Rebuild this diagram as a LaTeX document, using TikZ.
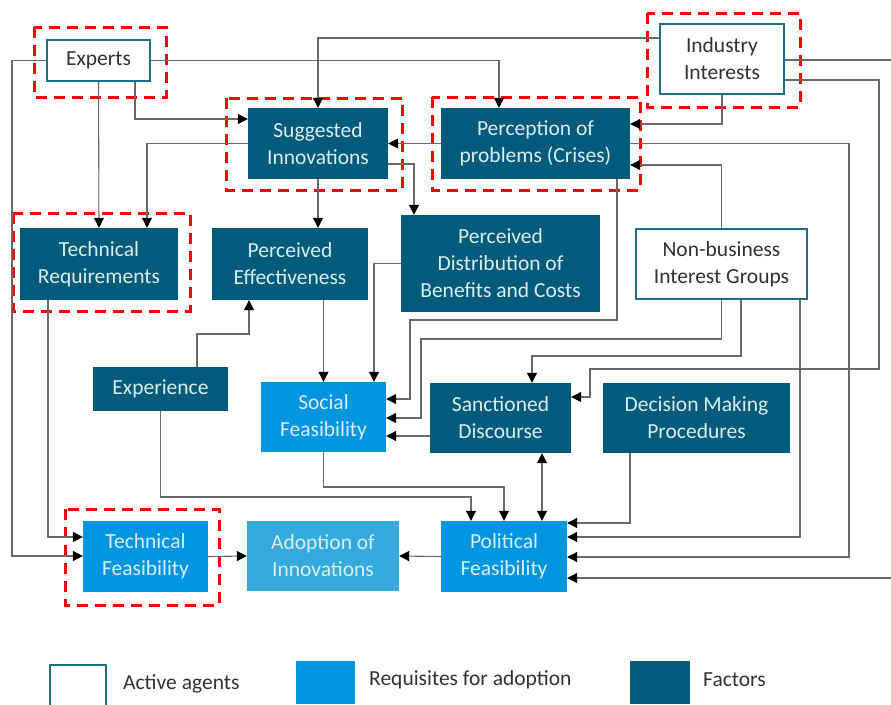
\documentclass[tikz,border=0pt]{standalone}
\usepackage{fontspec}
\setmainfont{Carlito}
\usetikzlibrary{arrows.meta}
\definecolor{factorcol}{RGB}{0,91,122}
\definecolor{requcol}{RGB}{0,149,224}
\definecolor{adoptcol}{RGB}{52,170,220}
\definecolor{agentcol}{RGB}{30,110,138}
\definecolor{lighttext}{RGB}{220,238,245}
\definecolor{darktext}{RGB}{50,50,50}
\definecolor{linecol}{RGB}{105,105,105}
\tikzset{
  box/.style={rectangle, align=center, inner sep=0pt, font=\fontsize{21.5}{27}\selectfont},
  agent/.style={box, draw=agentcol, line width=1.6pt, fill=white, text=darktext},
  factor/.style={box, fill=factorcol, text=lighttext},
  requisite/.style={box, fill=requcol, text=lighttext},
  flow/.style={draw=linecol, line width=1.1pt, -{Triangle[length=10pt,width=10pt,color=black]}},
  hilite/.style={draw=red, line width=3pt, dash pattern=on 11pt off 7pt},
  legendtext/.style={anchor=west, text=darktext, inner sep=0pt, font=\fontsize{21.5}{26}\selectfont},
}
\begin{document}
\begin{tikzpicture}[x=1pt,y=-1pt]
\useasboundingbox (0,0) rectangle (891,704);
% boxes
\node[agent, minimum width=103pt, minimum height=41pt] (experts) at (98.5,60.5) {Experts};
\node[agent, minimum width=124pt, minimum height=70pt] (industry) at (722,59) {Industry\\Interests};
\node[factor, minimum width=140pt, minimum height=71pt] (sugg) at (318,143.5) {Suggested\\Innovations};
\node[factor, minimum width=189pt, minimum height=71pt] (percep) at (535.5,143.5) {Perception of\\problems (Crises)};
\node[factor, minimum width=158pt, minimum height=72pt] (techreq) at (99,264) {Technical\\Requirements};
\node[factor, minimum width=156pt, minimum height=72pt] (effect) at (290,264) {Perceived\\Effectiveness};
\node[factor, minimum width=199pt, minimum height=97pt] (distrib) at (500.5,263.5) {Perceived\\Distribution of\\Benefits and Costs};
\node[agent, minimum width=171pt, minimum height=70pt] (nonbus) at (721.5,264) {Non-business\\Interest Groups};
\node[factor, minimum width=135pt, minimum height=44pt] (exper) at (160.5,389) {Experience};
\node[requisite, minimum width=125pt, minimum height=70pt] (social) at (323.5,417) {Social\\Feasibility};
\node[factor, minimum width=141pt, minimum height=70pt] (sanct) at (500.5,418) {Sanctioned\\Discourse};
\node[factor, minimum width=187pt, minimum height=70pt] (decis) at (696.5,418) {Decision Making\\Procedures};
\node[requisite, minimum width=125pt, minimum height=71pt] (techfeas) at (145.5,556.5) {Technical\\Feasibility};
\node[requisite, fill=adoptcol, minimum width=152pt, minimum height=70pt] (adopt) at (323,556) {Adoption of\\Innovations};
\node[requisite, minimum width=126pt, minimum height=71pt] (polit) at (504,556.5) {Political\\Feasibility};
% highlighted boxes
\draw[hilite] (34,27) rectangle (166,97);
\draw[hilite] (647,13) rectangle (800,107);
\draw[hilite] (226,98) rectangle (402,190);
\draw[hilite] (432,97) rectangle (640,190);
\draw[hilite] (13,213) rectangle (190,311);
\draw[hilite] (65,509) rectangle (219,605);
% connectors
\coordinate (offl) at (891,60);
\coordinate (offr) at (891,578);
\draw[flow] (experts.west) -| (12,556) -- (techfeas.west |- 0,556);
\draw[flow] (techreq.south -| 48,0) |- (techfeas.west |- 0,537);
\draw[flow] (experts.south) -- (techreq.north);
\draw[flow] (experts.south -| 135,0) |- (sugg.west |- 0,119);
\draw[flow] (experts.east) -| (percep.north -| 499,0);
\draw[flow] (industry.west |- 0,38) -| (sugg.north);
\draw[flow] (industry.south) |- (percep.east |- 0,124);
\draw[flow] (sugg.west) -| (techreq.north -| 147,0);
\draw[flow] (percep.west) -- (sugg.east);
\draw[flow] (sugg.east |- 0,164) -| (distrib.north -| 414,0);
\draw[flow] (sugg.south) -- (sugg.south |- effect.north);
\draw[flow] (percep.east) -| (849,557) -- (polit.east |- 0,557);
\draw[flow] (decis.south -| 630,0) |- (polit.east |- 0,523);
\draw[flow] (nonbus.south -| 800,0) |- (polit.east |- 0,537);
\draw[flow] (offr) -- (polit.east |- offr);
\draw[draw=linecol, line width=1.1pt] (industry.east |- offl) -- (offl);
\draw[flow] (industry.east |- 0,80) -| (879,369) -| (590,397) -- (sanct.east |- 0,397);
\draw[flow] (nonbus.north) |- (percep.east |- 0,165);
\draw[flow] (nonbus.south) |- (421,339) |- (social.east |- 0,418);
\draw[flow] (nonbus.south -| 741,0) |- (532,356) -- (sanct.north -| 532,0);
\draw[flow] (percep.south -| 617,0) |- (410,320) |- (social.east |- 0,399);
\draw[flow] (distrib.west) -| (social.north -| 374,0);
\draw[flow] (social.north |- effect.south) -- (social.north);
\draw[flow] (exper.north -| 197,0) |- (249,334) -- (effect.south -| 249,0);
\draw[flow] (sanct.west |- 0,436) -- (social.east |- 0,436);
\draw[flow] (exper.south) |- (471,497) -- (polit.north -| 471,0);
\draw[flow] (social.south) |- (polit.north |- 0,487) -- (polit.north);
\draw[flow, {Triangle[length=10pt,width=10pt,color=black]}-{Triangle[length=10pt,width=10pt,color=black]}] (sanct.south -| 542,0) -- (polit.north -| 542,0);
\draw[flow] (polit.west) -- (adopt.east);
\draw[flow] (techfeas.east) -- (adopt.west);
% legend
\draw[agentcol, line width=1.6pt] (50,705) -- (50,665) -- (106,665) -- (106,705);
\fill[requcol] (296,661) rectangle (355,704);
\fill[factorcol] (630,661) rectangle (690,704);
\node[legendtext] (lagent) at (123,684) {Active agents};
\node[legendtext] (lrequ) at (369,680) {Requisites for adoption};
\node[legendtext] (lfact) at (703,680) {Factors};
\end{tikzpicture}
\end{document}
